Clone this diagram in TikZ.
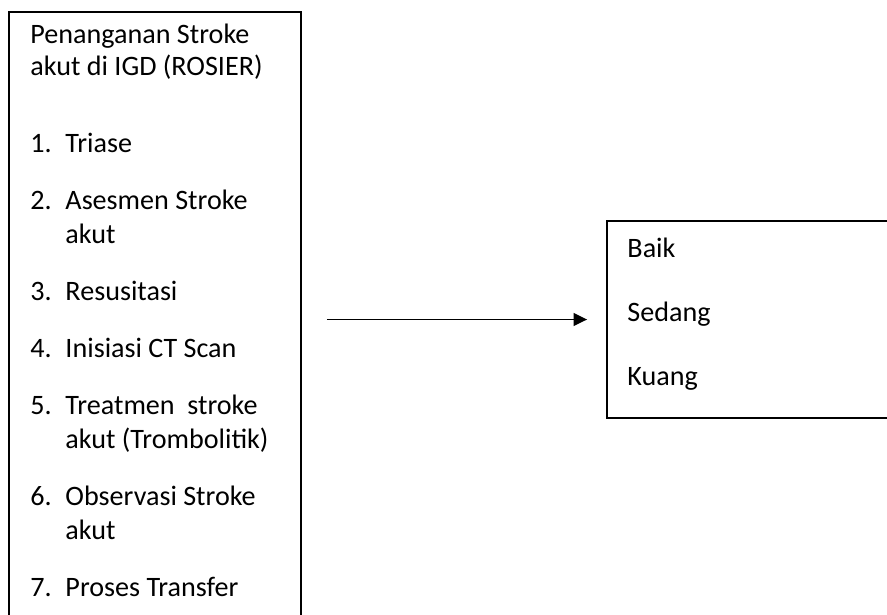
\documentclass[tikz,border=0pt]{standalone}
\usepackage{fontspec}
\setmainfont{Carlito}
\usetikzlibrary{arrows.meta, positioning}

\begin{document}
\begin{tikzpicture}[
            x=0.015cm, y=-0.015cm,
            kotak/.style={rectangle, draw, line width=0.8pt},
            teks/.style={anchor=base west, inner sep=0pt, font=\fontsize{12}{14}\selectfont},
            arrow/.style={-{Triangle[length=0.2cm, width=0.19cm]}, line width=0.6pt}
        ]
            \useasboundingbox (0,0) rectangle (887,614);
            \clip (0,0) rectangle (887,614);

            \node[kotak, minimum width=4.38cm, minimum height=10.32cm] (rosier) at (155,356) {};
            \node[kotak, minimum width=5.145cm, minimum height=2.955cm] (hasil) at (778.5,319.5) {};

            \node[teks] (judul1) at (30,43)  {Penanganan Stroke};
            \node[teks] (judul2) at (30,75)  {akut di IGD (ROSIER)};
            \node[teks] (n1)  at (30,152) {1.}; \node[teks] (t1)  at (65,152) {Triase};
            \node[teks] (n2)  at (30,209) {2.}; \node[teks] (t2)  at (65,209) {Asesmen Stroke};
                                              \node[teks] (t2b) at (65,243) {akut};
            \node[teks] (n3)  at (30,300) {3.}; \node[teks] (t3)  at (65,300) {Resusitasi};
            \node[teks] (n4)  at (30,357) {4.}; \node[teks] (t4)  at (65,357) {Inisiasi CT Scan};
            \node[teks] (n5)  at (30,414) {5.}; \node[teks] (t5)  at (65,414) {Treatmen\ \ stroke};
                                              \node[teks] (t5b) at (65,448) {akut (Trombolitik)};
            \node[teks] (n6)  at (30,505) {6.}; \node[teks] (t6)  at (65,505) {Observasi Stroke};
                                              \node[teks] (t6b) at (65,539) {akut};
            \node[teks] (n7)  at (30,596) {7.}; \node[teks] (t7)  at (65,596) {Proses Transfer};

            \node[teks] (baik)   at (627,257) {Baik};
            \node[teks] (sedang) at (627,321) {Sedang};
            \node[teks] (kuang)  at (627,385) {Kuang};

            \draw[arrow, shorten <=0.375cm, shorten >=0.285cm] (rosier.east |- hasil.west) -- (hasil.west);
        \end{tikzpicture}
\end{document}
